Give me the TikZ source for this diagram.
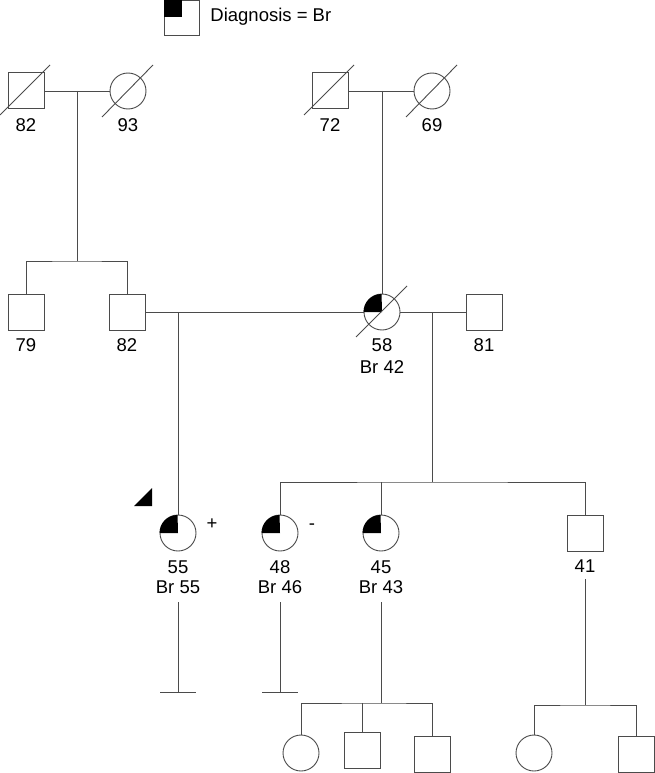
\documentclass[tikz,border=0pt]{standalone}
\usepackage{fontspec}
\setmainfont{Liberation Sans}
\definecolor{ln}{RGB}{75,75,75}
\begin{document}
\begin{tikzpicture}[x=1pt,y=1pt,
  every path/.style={line width=0.9pt},
  male/.style={draw=ln, rectangle, minimum size=36pt, inner sep=0pt, fill=white},
  female/.style={draw=ln, circle, minimum size=36pt, inner sep=0pt, fill=white},
  conn/.style={draw=ln, line width=0.9pt},
  lbl/.style={font=\fontsize{18.5}{18.5}\selectfont, inner sep=0pt, anchor=center},
  dead/.style={draw=ln, line width=0.9pt}]
\useasboundingbox (0,0) rectangle (654,-773);

% legend
\node[male, minimum size=35pt] (leg) at (182,-17.5) {};
\fill (leg.north west) rectangle (leg.center);
\node[lbl, anchor=west] (legt) at (210,-17) {Diagnosis = Br};

% generation 1
\node[male] (g1m) at (26,-90) {};
\node[female] (g1f) at (128,-91) {};
\node[lbl] (l82a) at (26,-125) {82};
\node[lbl] (l93) at (128,-125) {93};
\draw[dead] ([shift={(-26,-25)}]g1m.center) -- ([shift={(24,25)}]g1m.center);
\draw[dead] ([shift={(-26,-26)}]g1f.center) -- ([shift={(25,26)}]g1f.center);
\coordinate (u1) at (77,-91);
\draw[conn] (g1m.east |- u1) -- (g1f.west |- u1);

\node[male] (g2m) at (330,-90) {};
\node[female] (g2f) at (432,-91) {};
\node[lbl] (l72) at (330,-125) {72};
\node[lbl] (l69) at (432,-125) {69};
\draw[dead] ([shift={(-26,-25)}]g2m.center) -- ([shift={(24,25)}]g2m.center);
\draw[dead] ([shift={(-26,-26)}]g2f.center) -- ([shift={(25,26)}]g2f.center);
\coordinate (u2) at (382,-91);
\draw[conn] (g2m.east |- u2) -- (g2f.west |- u2);

% generation 2
\node[male] (s79) at (26,-312) {};
\node[male] (s82) at (127,-312) {};
\node[lbl] (l79) at (26,-345) {79};
\node[lbl] (l82b) at (127,-345) {82};
\coordinate (sib1) at (77,-261);
\draw[conn] (u1) -- (sib1);
\draw[conn] (s79.north) |- (sib1) -| (s82.north);

\node[female] (f58) at (382,-312) {};
\fill (f58.center) -- (f58.west) arc[start angle=180, end angle=90, radius=18pt] -- cycle;
\draw[dead] ([shift={(-26,-25)}]f58.center) -- ([shift={(25,26)}]f58.center);
\node[lbl] (l58) at (382,-345) {58};
\node[lbl] (l58b) at (382,-367) {Br 42};
\draw[conn] (u2) -- (f58.north);

\node[male] (s81) at (484,-312) {};
\node[lbl] (l81) at (484,-345) {81};

\draw[conn] (s82.east) -- (f58.west);
\draw[conn] (f58.east) -- (s81.west);
\coordinate (u3) at (178,-312);
\coordinate (u4) at (432,-312);

% generation 3
\node[female] (c55) at (178,-533) {};
\fill (c55.center) -- (c55.west) arc[start angle=180, end angle=90, radius=18pt] -- cycle;
\node[lbl] (l55) at (178,-567) {55};
\node[lbl] (l55b) at (178,-587) {Br 55};
\node[lbl] (plus) at (212,-524) {+};
\fill (134,-506) -- (152,-506) -- (152,-488) -- cycle;
\draw[conn] (u3) -- (c55.north);

\node[female] (c48) at (280,-533) {};
\fill (c48.center) -- (c48.west) arc[start angle=180, end angle=90, radius=18pt] -- cycle;
\node[lbl] (l48) at (280,-567) {48};
\node[lbl] (l48b) at (280,-587) {Br 46};
\node[lbl] (minus) at (312,-527) {-};

\node[female] (c45) at (381,-533) {};
\fill (c45.center) -- (c45.west) arc[start angle=180, end angle=90, radius=18pt] -- cycle;
\node[lbl] (l45) at (381,-567) {45};
\node[lbl] (l45b) at (381,-587) {Br 43};

\node[male] (s41) at (585,-533) {};
\node[lbl] (l41) at (585,-566) {41};

\coordinate (sib2) at (432,-482);
\draw[conn] (u4) -- (sib2);
\draw[conn] (c48.north) |- (sib2) -| (s41.north);
\draw[conn] (c45.north) -- (c45.north |- sib2);

% no offspring bars
\coordinate (b55) at (178,-692);
\coordinate (b48) at (280,-692);
\draw[conn] (178,-602) -- (b55);
\draw[conn] ([xshift=-18pt]b55) -- ([xshift=18pt]b55);
\draw[conn] (280,-602) -- (b48);
\draw[conn] ([xshift=-18pt]b48) -- ([xshift=18pt]b48);

% generation 4
\node[female] (k1) at (301,-753) {};
\node[male] (k2) at (362,-750) {};
\node[male] (k3) at (432,-754) {};
\coordinate (d45) at (381,-602);
\coordinate (sib3) at (381,-703);
\draw[conn] (d45) -- (sib3);
\draw[conn] (k1.north) |- (sib3) -| (k3.north);
\draw[conn] (k2.north) -- (k2.north |- sib3);

\node[female] (k4) at (534,-753) {};
\node[male] (k5) at (636,-754) {};
\coordinate (d41) at (585,-579);
\coordinate (sib4) at (585,-705);
\draw[conn] (d41) -- (sib4);
\draw[conn] (k4.north) |- (sib4) -| (k5.north);
\end{tikzpicture}
\end{document}
